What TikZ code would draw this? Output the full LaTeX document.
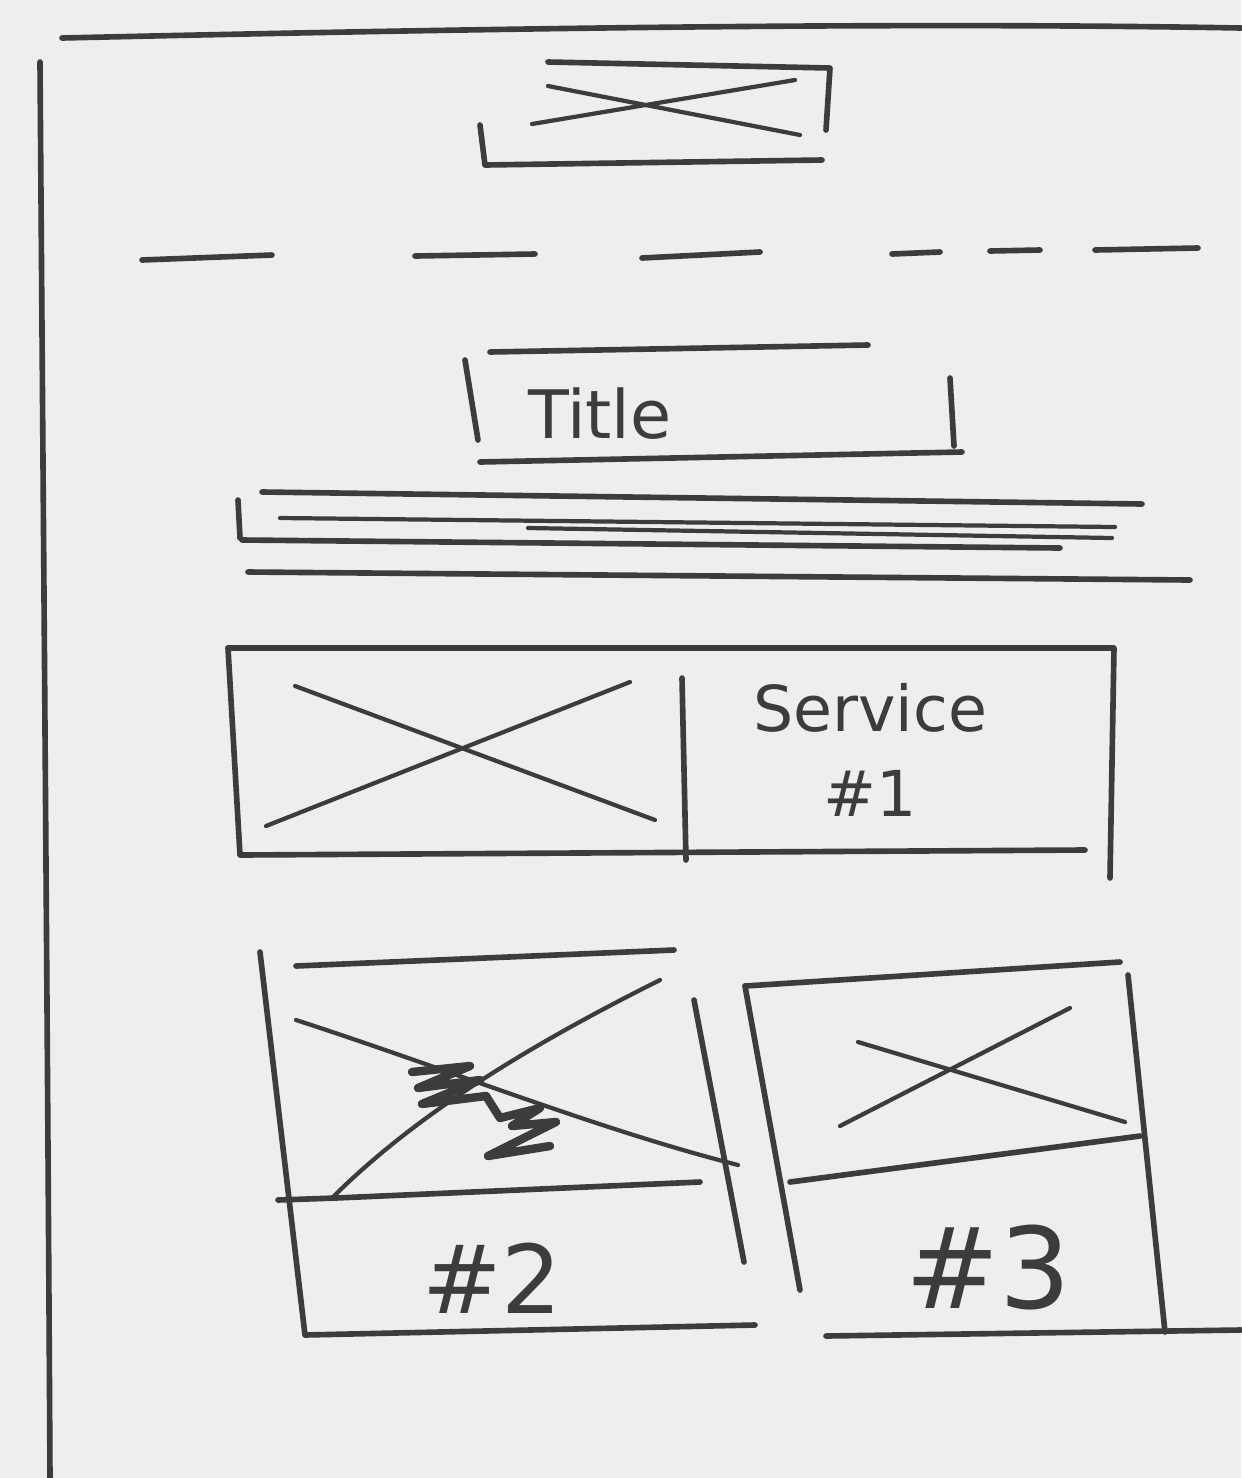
\documentclass[tikz,border=0pt]{standalone}
\usepackage{fontspec}
\setmainfont{DejaVu Sans}
\definecolor{paper}{HTML}{EDEFEC}
\definecolor{ink}{HTML}{3C3C3C}
\tikzset{
  pen/.style={draw=ink, line width=1.6pt, line cap=round, line join=round},
  thinpen/.style={draw=ink, line width=1.2pt, line cap=round},
  scrawl/.style={text=ink, inner sep=0pt}
}

\begin{document}
\begin{tikzpicture}[x=0.01cm, y=-0.01cm]
  % Paper
  \fill[paper] (0,0) rectangle (1241,1478);
  \useasboundingbox (0,0) rectangle (1241,1478);

  % Page frame
  \draw[pen] (62,38) .. controls (500,28) and (900,22) .. (1241,28);
  \draw[pen] (40,62) .. controls (44,600) and (48,1100) .. (50,1478);

  % Logo placeholder
  \draw[pen] (548,62) -- (830,68) -- (826,130);
  \draw[pen] (480,125) -- (485,165) -- (822,160);
  \draw[thinpen] (548,86) -- (800,135);
  \draw[thinpen] (532,124) -- (795,80);

  % Nav divider
  \draw[pen] (142,260) -- (272,255);
  \draw[pen] (415,256) -- (535,254);
  \draw[pen] (642,258) -- (760,252);
  \draw[pen] (892,254) -- (940,252);
  \draw[pen] (990,251) -- (1040,250);
  \draw[pen] (1095,250) -- (1198,248);

  % Title block
  \draw[pen] (490,352) -- (868,345);
  \draw[pen] (465,360) -- (478,440);
  \draw[pen] (480,462) -- (962,452);
  \draw[pen] (950,378) -- (954,446);
  \node[scrawl, font=\fontsize{19}{19}\selectfont] (title) at (600,414) {Title};

  % Intro text lines
  \draw[pen] (238,500) -- (240,538);
  \draw[pen] (262,492) -- (1142,504);
  \draw[thinpen] (280,518) -- (1115,527);
  \draw[thinpen] (528,528) -- (1112,538);
  \draw[pen] (242,540) -- (1060,548);
  \draw[pen] (248,572) -- (1190,580);

  % Service #1
  \draw[pen] (228,648) -- (1114,648) -- (1110,878);
  \draw[pen] (228,648) -- (240,855) -- (1085,850);
  \draw[pen] (682,678) -- (686,860);
  \draw[thinpen] (295,686) -- (655,820);
  \draw[thinpen] (266,826) -- (630,682);
  \node[scrawl, font=\fontsize{18}{24}\selectfont, align=center] (srv1) at (870,750) {Service\\\#1};

  % Card #2
  \draw[pen] (296,966) -- (674,950);
  \draw[pen] (260,952) -- (305,1335) -- (755,1325);
  \draw[pen] (694,1000) -- (744,1262);
  \draw[pen] (278,1200) -- (336,1198) -- (700,1182);
  \draw[thinpen] (296,1020) .. controls (450,1070) and (600,1130) .. (738,1165);
  \draw[thinpen] (332,1198) .. controls (420,1110) and (540,1040) .. (660,980);
  % crossed-out scribble
  \draw[pen, line width=2.4pt] (412,1072) -- (470,1066) -- (418,1088) -- (480,1080) -- (422,1104) -- (486,1096)
    -- (500,1118) -- (540,1108) -- (512,1126) -- (556,1122) -- (488,1156) -- (550,1146);
  \node[scrawl, font=\fontsize{27}{27}\selectfont] (card2) at (492,1278) {\#2};

  % Card #3
  \draw[pen] (745,986) -- (1120,962);
  \draw[pen] (745,986) -- (800,1290);
  \draw[pen] (1128,975) -- (1165,1332);
  \draw[pen] (790,1182) -- (1140,1136);
  \draw[thinpen] (858,1042) -- (1125,1122);
  \draw[thinpen] (840,1126) -- (1070,1008);
  \node[scrawl, font=\fontsize{32}{32}\selectfont] (card3) at (988,1268) {\#3};
  \draw[pen] (826,1336) -- (1241,1330);
\end{tikzpicture}
\end{document}
